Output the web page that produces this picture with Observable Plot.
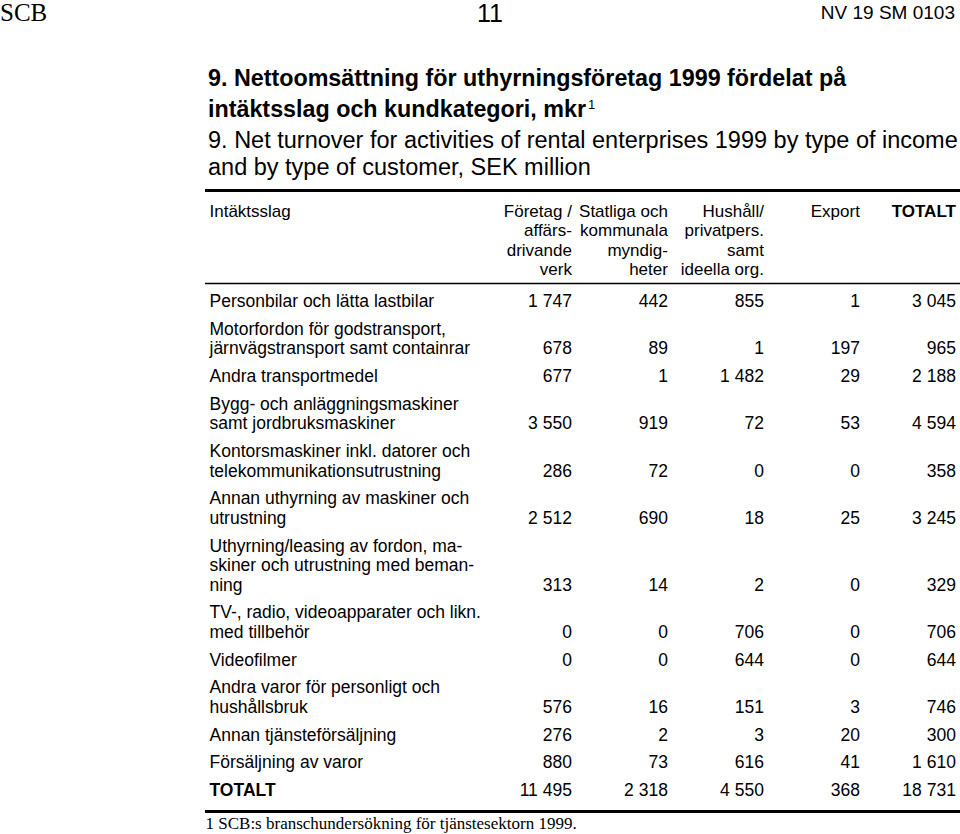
<!DOCTYPE html>
<html>
<head>
<meta charset="utf-8">
<script src="https://cdn.jsdelivr.net/npm/d3@7"></script>
<script src="https://cdn.jsdelivr.net/npm/@observablehq/plot@0.6"></script>
<style>
  body { margin: 0; background: #fff; }
  #top { position: relative; width: 960px; height: 185px; font-family: "Liberation Sans", Arial, sans-serif; color: #000; }
  .t { position: absolute; white-space: nowrap; }
  #chart svg { display: block; }
</style>
</head>
<body>
<div id="top">
  <div class="t" style="left:0;top:0;height:26px;line-height:26px;font-family:'Liberation Serif',serif;font-size:25px;">SCB</div>
  <div class="t" style="left:477px;top:0;height:26px;line-height:26px;font-size:25px;">11</div>
  <div class="t" style="right:5px;top:0;height:26px;line-height:26px;font-size:19px;">NV 19 SM 0103</div>
  <div class="t" style="left:208px;top:64px;height:28px;line-height:28px;font-size:23.3px;font-weight:bold;">9. Nettoomsättning för uthyrningsföretag 1999 fördelat på</div>
  <div class="t" style="left:208px;top:91px;height:28px;line-height:28px;font-size:23.3px;font-weight:bold;">intäktsslag och kundkategori, mkr<span style="font-size:13px;font-weight:normal;vertical-align:8px;margin-left:2px;">1</span></div>
  <div class="t" style="left:208px;top:126px;height:28px;line-height:28px;font-size:23.5px;">9. Net turnover for activities of rental enterprises 1999 by type of income</div>
  <div class="t" style="left:208px;top:153px;height:28px;line-height:28px;font-size:23.5px;">and by type of customer, SEK million</div>
</div>
<div id="chart"></div>
<script>
// ---- data ----
const rowHeader = "Intäktsslag";
const colHeaders = [
  "Företag /\naffärs-\ndrivande\nverk",
  "Statliga och\nkommunala\nmyndig-\nheter",
  "Hushåll/\nprivatpers.\nsamt\nideella org.",
  "Export",
  "TOTALT"
];
const categories = [
  "Personbilar och lätta lastbilar",
  "Motorfordon för godstransport,\njärnvägstransport samt containrar",
  "Andra transportmedel",
  "Bygg- och anläggningsmaskiner\nsamt jordbruksmaskiner",
  "Kontorsmaskiner inkl. datorer och\ntelekommunikationsutrustning",
  "Annan uthyrning av maskiner och\nutrustning",
  "Uthyrning/leasing av fordon, ma-\nskiner och utrustning med beman-\nning",
  "TV-, radio, videoapparater och likn.\nmed tillbehör",
  "Videofilmer",
  "Andra varor för personligt och\nhushållsbruk",
  "Annan tjänsteförsäljning",
  "Försäljning av varor",
  "TOTALT"
];
const foretag  = [1747, 678, 677, 3550, 286, 2512, 313, 0, 0, 576, 276, 880, 11495];
const statliga = [442, 89, 1, 919, 72, 690, 14, 0, 0, 16, 2, 73, 2318];
const hushall  = [855, 1, 1482, 72, 0, 18, 2, 706, 644, 151, 3, 616, 4550];
const exporten = [1, 197, 29, 53, 0, 25, 0, 0, 0, 3, 20, 41, 368];
const totalt   = [3045, 965, 2188, 4594, 358, 3245, 329, 706, 644, 746, 300, 1610, 18731];
const footnote = "1 SCB:s branschundersökning för tjänstesektorn 1999.";

// ---- layout ----
const series = [foretag, statliga, hushall, exporten, totalt];
const LINE = 19.5, GAP = 8.25;
const fmt = n => String(n).replace(/\B(?=(\d{3})+(?!\d))/g, " ");

const headerTop = 26;
const ruleTop = 5, ruleHead = 98;
const headerCells = [];
colHeaders.forEach((h, j) => h.split("\n").forEach((line, k) =>
  headerCells.push({col: h, y: headerTop + k * LINE, text: line, bold: j === 4})));

const labelLines = [], numCells = [];
let y = 116;
categories.forEach((c, i) => {
  const lines = c.split("\n");
  lines.forEach((line, k) => labelLines.push({y: y + k * LINE, text: line, bold: c === "TOTALT"}));
  const last = y + (lines.length - 1) * LINE;
  series.forEach((s, j) => numCells.push({col: colHeaders[j], y: last, text: fmt(s[i])}));
  y = last + LINE + GAP;
});
const lastY = y - LINE - GAP;
const ruleBottom = lastY + 21;
const footY = ruleBottom + 12;

const H = 649;
const bw = (957 - 473) / 5;
const chart = Plot.plot({
  width: 960, height: H,
  marginLeft: 205, marginRight: 0, marginTop: 0, marginBottom: 0,
  x: {type: "band", domain: colHeaders, range: [473, 957], padding: 0, axis: null},
  y: {type: "linear", domain: [0, H], range: [0, H], axis: null},
  style: {fontFamily: "'Liberation Sans', Arial, sans-serif", fontSize: "17.5px", color: "#000", background: "#fff", overflow: "visible"},
  marks: [
    Plot.ruleY([ruleTop], {stroke: "#000", strokeWidth: 3}),
    Plot.ruleY([ruleHead], {stroke: "#000", strokeWidth: 1.5}),
    Plot.ruleY([ruleBottom], {stroke: "#000", strokeWidth: 3}),
    Plot.text([rowHeader], {frameAnchor: "left", y: () => headerTop, text: d => d, textAnchor: "start", dx: 4, fill: "#000", fontSize: 17}),
    Plot.text(headerCells.filter(d => !d.bold), {x: "col", y: "y", text: "text", textAnchor: "end", dx: bw / 2, fill: "#000", fontSize: 17}),
    Plot.text(headerCells.filter(d => d.bold), {x: "col", y: "y", text: "text", textAnchor: "end", dx: bw / 2, fill: "#000", fontWeight: "bold", fontSize: 17}),
    Plot.text(labelLines.filter(d => !d.bold), {frameAnchor: "left", y: "y", text: "text", textAnchor: "start", dx: 4, fill: "#000"}),
    Plot.text(labelLines.filter(d => d.bold), {frameAnchor: "left", y: "y", text: "text", textAnchor: "start", dx: 4, fill: "#000", fontWeight: "bold"}),
    Plot.text(numCells, {x: "col", y: "y", text: "text", textAnchor: "end", dx: bw / 2, fill: "#000"}),
    Plot.text([footnote], {frameAnchor: "left", y: () => footY, text: d => d, textAnchor: "start", dx: 0, fill: "#000", fontFamily: "'Liberation Serif', serif", fontSize: 17})
  ]
});
document.getElementById("chart").appendChild(chart);
</script>
</body>
</html>
